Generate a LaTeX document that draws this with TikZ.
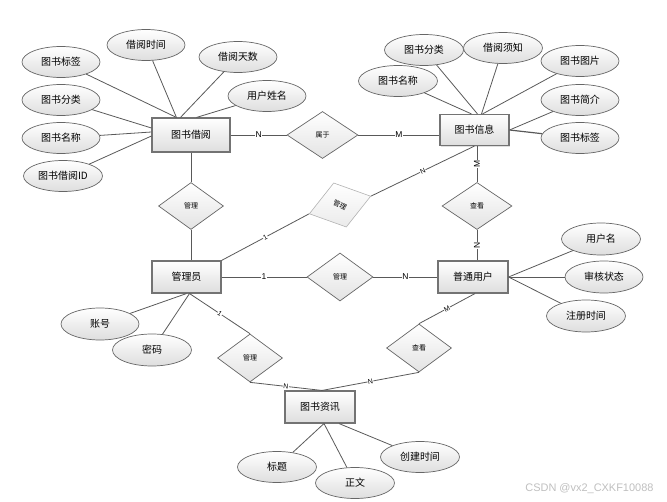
\documentclass[tikz,border=0pt]{standalone}
\usepackage{fontspec}
\newfontfamily\cjk{Noto Sans CJK SC}
\setsansfont{Liberation Sans}
\usetikzlibrary{shapes.geometric,calc,shadows}
\tikzset{
  ent/.style={draw=black!55, line width=1.1bp, top color=white, bottom color=black!13,
    minimum width=70bp, minimum height=32bp, inner sep=0pt,
    font=\cjk\fontsize{10}{12}\selectfont,
    drop shadow={shadow xshift=1.2bp, shadow yshift=-1.2bp, opacity=0.25}},
  attr/.style={ellipse, draw=black!60, line width=0.7bp, top color=white, bottom color=black!13,
    minimum width=78bp, minimum height=31bp, inner sep=0pt,
    font=\cjk\fontsize{10}{12}\selectfont},
  rel/.style={diamond, draw=black!60, line width=0.7bp, top color=white, bottom color=black!11,
    minimum width=66bp, minimum height=47bp, inner sep=0pt,
    font=\cjk\fontsize{7}{8}\selectfont},
  conn/.style={draw=black!65, line width=0.8bp},
  card/.style={font=\sffamily\fontsize{8.5}{9}\selectfont, fill=white, inner sep=0.4bp},
  smallcard/.style={card, sloped, font=\sffamily\fontsize{7}{8}\selectfont},
}
\begin{document}
\begin{tikzpicture}[x=1bp,y=-1bp]
\useasboundingbox (0,0) rectangle (667,502);

% entities
\node[ent, minimum width=78bp, minimum height=34bp] (jy) at (191,135) {图书借阅};
\node[ent, minimum width=69bp, minimum height=31bp] (xx) at (474.5,130) {图书信息};
\node[ent, minimum width=69bp] (gly) at (186.5,277) {管理员};
\node[ent] (pt) at (473,277) {普通用户};
\node[ent] (zx) at (320,407) {图书资讯};

% relationships
\node[rel, minimum width=71bp] (r1) at (322.5,135) {属于};
\node[rel, minimum width=65bp] (r2) at (191,206) {管理};
\node[rel, minimum height=48bp] (r3) at (340,277) {管理};
\node[rel, minimum width=70bp] (r4) at (477,206) {查看};
\node[rel, draw=black!30, line width=0.6bp, bottom color=black!8,
      minimum width=64bp, minimum height=46bp, rotate=16] (r5) at (340,205) {\rotatebox{-41}{管理}};
\node[rel, minimum width=65bp, minimum height=48bp] (r6) at (250,358) {管理};
\node[rel, minimum width=65bp, minimum height=48bp] (r7) at (419,348) {查看};

% attributes of 图书借阅
\node[attr] (a1) at (61,62) {图书标签};
\node[attr] (a2) at (146,45) {借阅时间};
\node[attr] (a3) at (238,57) {借阅天数};
\node[attr] (a4) at (267,96) {用户姓名};
\node[attr] (a5) at (61,100) {图书分类};
\node[attr] (a6) at (61,138) {图书名称};
\node[attr, minimum width=79bp] (a7) at (63,176) {图书借阅ID};

% attributes of 图书信息
\node[attr, minimum width=79bp] (b1) at (424,50) {图书分类};
\node[attr, minimum width=79bp] (b2) at (503,48) {借阅须知};
\node[attr, minimum width=79bp] (b3) at (398,81) {图书名称};
\node[attr] (b4) at (580,61) {图书图片};
\node[attr] (b5) at (580,100) {图书简介};
\node[attr] (b6) at (580,138) {图书标签};

% attributes of 管理员
\node[attr, minimum height=32bp] (c1) at (100,324) {账号};
\node[attr, minimum width=79bp, minimum height=32bp] (c2) at (152,350) {密码};

% attributes of 普通用户
\node[attr, minimum width=79bp, minimum height=32bp] (d1) at (601,239) {用户名};
\node[attr, minimum height=32bp] (d2) at (604,277) {审核状态};
\node[attr, minimum width=79bp, minimum height=32bp] (d3) at (586,316) {注册时间};

% attributes of 图书资讯
\node[attr, minimum width=79bp] (e1) at (277,467) {标题};
\node[attr, minimum width=79bp] (e2) at (355,483) {正文};
\node[attr, minimum width=79bp] (e3) at (420,457) {创建时间};

% attribute connectors
\draw[conn] (a1) -- ($(jy.north west)+(25,0)$);
\draw[conn] (a2) -- ($(jy.north west)+(25,0)$);
\draw[conn] (a3) -- ($(jy.north west)+(29,0)$);
\draw[conn] (a4) -- ($(jy.north west)+(45,0)$);
\draw[conn] (a5) -- ($(jy.west)+(0,-7)$);
\draw[conn] (a6) -- ($(jy.west)+(0,-3)$);
\draw[conn] (a7) -- ($(jy.west)+(0,1)$);

\draw[conn] (b1) -- ($(xx.north)+(3,0)$);
\draw[conn] (b2) -- ($(xx.north)+(7,0)$);
\draw[conn] (b3) -- ($(xx.north)+(-3,0)$);
\draw[conn] (b4) -- ($(xx.north)+(8,0)$);
\draw[conn] (b5) -- (xx.east);
\draw[conn, line width=1.2bp] (b6) -- (xx.east);

\draw[conn] (c1) -- (gly.south);
\draw[conn] (c2) -- ($(gly.south)+(3,0)$);

\draw[conn] (d1) -- (pt.east);
\draw[conn] (d2) -- (pt.east);
\draw[conn] (d3) -- (pt.east);

\draw[conn] (e1) -- ($(zx.south)+(4,0)$);
\draw[conn] (e2) -- ($(zx.south)+(4,0)$);
\draw[conn] (e3) -- ($(zx.south)+(19,0)$);

% relationship connectors
\draw[conn] (jy.east |- r1.west) -- node[card] {N} (r1.west);
\draw[conn] (r1.east) -- node[card] {M} (xx.west |- r1.east);
\draw[conn] (jy.south -| r2.north) -- (r2.north);
\draw[conn] (r2.south) -- (r2.south |- gly.north);
\draw[conn] (gly.east) -- node[card] {1} (r3.west);
\draw[conn] (r3.east) -- node[card] {N} (pt.west);
\draw[conn] (r4.north |- xx.south) -- node[card, rotate=90] {M} (r4.north);
\draw[conn] (r4.south) -- node[card, rotate=90] {N} (r4.south |- pt.north);
\draw[conn] (gly.north east) -- node[smallcard] {1} (r5.west);
\draw[conn] (r5.east) -- node[smallcard] {N} (xx.south);
\draw[conn] ($(gly.south)+(3,0)$) -- node[smallcard] {1} (r6.north);
\draw[conn] (r6.south) -- node[smallcard] {N} ($(zx.north)+(2,0)$);
\draw[conn] ($(pt.south)+(2,0)$) -- node[smallcard] {M} (r7.north);
\draw[conn] (r7.south) -- node[smallcard] {N} ($(zx.north)+(2,0)$);

% watermark
\node[font=\sffamily\fontsize{11}{12}\selectfont, text=black!25, anchor=east] (wm) at (657,489) {CSDN @vx2\_CXKF10088};
\end{tikzpicture}
\end{document}
